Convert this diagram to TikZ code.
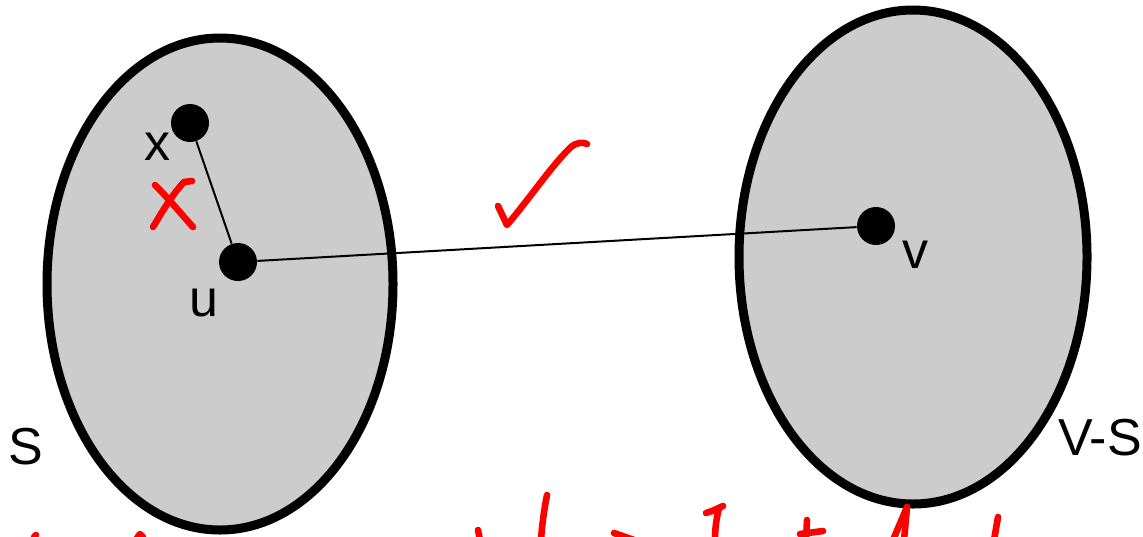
\documentclass[tikz,border=0pt]{standalone}
\usepackage{fontspec}
\setmainfont{Liberation Sans}
\usetikzlibrary{positioning}
\definecolor{setgray}{RGB}{204,204,204}
\definecolor{inkred}{RGB}{255,0,0}

\begin{document}
\begin{tikzpicture}[x=0.5pt,y=-0.5pt,font=\fontsize{26}{30}\selectfont,
  vertex/.style={circle,fill=black,inner sep=0pt,minimum size=19pt},
  lbl/.style={inner sep=0pt},
  cutset/.style={draw=black,fill=setgray,line width=4.5pt},
  ink/.style={inkred,line width=3.3pt,line cap=round,line join=round}]
\useasboundingbox (0,0) rectangle (1143,536);
\clip (0,0) rectangle (1143,536);
\draw[cutset] (220,284) ellipse [x radius=173, y radius=246];
\draw[cutset] (913,257) ellipse [x radius=174, y radius=247];
\node[vertex] (x) at (190,123) {};
\node[vertex] (u) at (238,262) {};
\node[vertex] (v) at (876,226) {};
\draw[line width=1pt] (x) -- (u);
\draw[line width=1pt] (u) -- (v);
\node[lbl] at (157,147) {x};
\node[lbl] at (204,303) {u};
\node[lbl] at (915,255) {v};
\node[lbl] at (26,447) {S};
\node[lbl] at (1100,438) {V-S};
% red marks
\draw[ink] (155,185) .. controls (170,200) and (182,215) .. (193,227);
\draw[ink] (192,181) -- (184,182) .. controls (172,195) and (162,212) .. (153,227);
\draw[ink] (498,206) -- (507,225) .. controls (530,198) and (552,165) .. (571,147) .. controls (577,142) and (583,142) .. (587,144);
% cut-off writing at the bottom
\draw[ink] (34,537) -- (36,535);
\draw[ink] (137,538) -- (140,534) -- (143,537);
\draw[ink] (478,530) -- (480,540);
\draw[ink] (547,495) .. controls (544,510) and (542,525) .. (541,540);
\draw[ink] (614,533) -- (634,540);
\draw[ink] (706,513) -- (712,511) -- (723,506);
\draw[ink] (719,508) .. controls (716,520) and (715,530) .. (715,540);
\draw[ink] (807,520) -- (806,540);
\draw[ink] (800,534) -- (823,531);
\draw[ink] (907,507) -- (893,540);
\draw[ink] (907,507) -- (904,540);
\draw[ink] (998,517) -- (994,540);
\end{tikzpicture}
\end{document}
